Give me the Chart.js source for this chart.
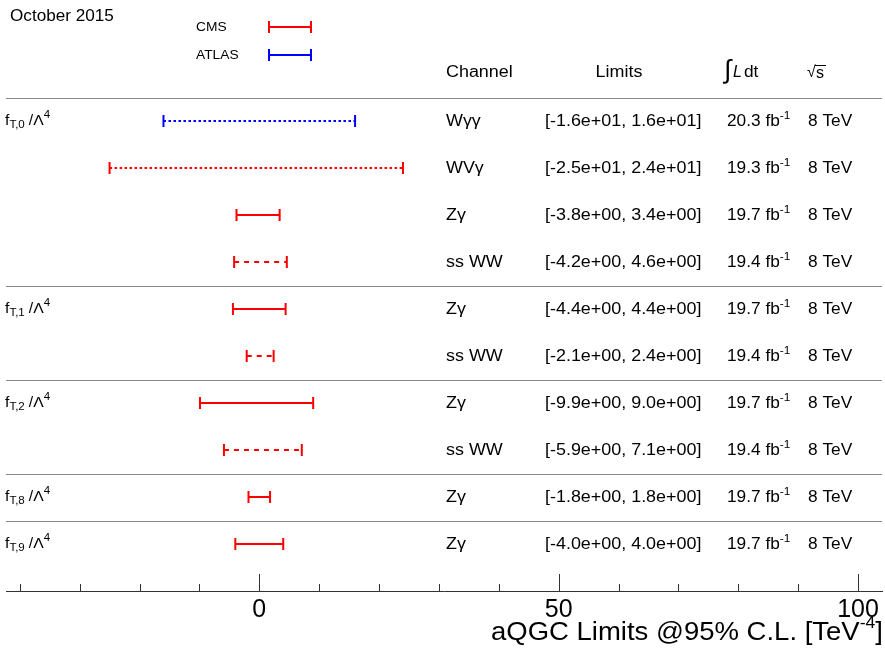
<!DOCTYPE html>
<html><head><meta charset="utf-8">
<script src="https://cdn.jsdelivr.net/npm/chart.js@4/dist/chart.umd.min.js"></script>
<style>html,body{margin:0;padding:0;background:#fff;}#wrap{width:885px;height:650px;}</style>
</head><body><div id="wrap"><canvas id="c" width="885" height="650"></canvas></div>
<script>
// ---- data ----
const coefficients = ['T,0','T,0','T,0','T,0','T,1','T,1','T,2','T,2','T,8','T,9'];
const channels = ['Wγγ','WVγ','Zγ','ss WW','Zγ','ss WW','Zγ','ss WW','Zγ','Zγ'];
const experiments = ['ATLAS','CMS','CMS','CMS','CMS','CMS','CMS','CMS','CMS','CMS'];
const lowerLimits = [-16,-25,-3.8,-4.2,-4.4,-2.1,-9.9,-5.9,-1.8,-4.0];
const upperLimits = [16,24,3.4,4.6,4.4,2.4,9.0,7.1,1.8,4.0];
const limitLabels = ['[-1.6e+01, 1.6e+01]','[-2.5e+01, 2.4e+01]','[-3.8e+00, 3.4e+00]','[-4.2e+00, 4.6e+00]','[-4.4e+00, 4.4e+00]','[-2.1e+00, 2.4e+00]','[-9.9e+00, 9.0e+00]','[-5.9e+00, 7.1e+00]','[-1.8e+00, 1.8e+00]','[-4.0e+00, 4.0e+00]'];
const luminosities = ['20.3','19.3','19.7','19.4','19.7','19.4','19.7','19.4','19.7','19.7'];
const energies = ['8 TeV','8 TeV','8 TeV','8 TeV','8 TeV','8 TeV','8 TeV','8 TeV','8 TeV','8 TeV'];
const lineStyles = ['dotted','dotted','solid','dashed','solid','dashed','solid','dashed','solid','solid'];
const majorTicks = [0,50,100];
const minorTicks = [-40,-30,-20,-10,10,20,30,40,60,70,80,90];
const legendEntries = ['CMS','ATLAS'];

const COLORS = {CMS:'#ff0000', ATLAS:'#0000ff'};
const DASHES = {solid:[], dashed:[5,5], dotted:[2.5,2.5]};
const FONT = '"Liberation Sans", Arial, sans-serif';

const datasets = lowerLimits.map((lo, i) => ({
  data: [{x: lo, y: i}, {x: upperLimits[i], y: i}],
  showLine: true,
  borderColor: COLORS[experiments[i]],
  borderWidth: 2,
  borderDash: DASHES[lineStyles[i]],
  pointStyle: 'line',
  rotation: 90,
  pointRadius: 6,
  pointBorderWidth: 2,
  pointBorderColor: COLORS[experiments[i]],
  pointBackgroundColor: COLORS[experiments[i]]
}));

function txt(ctx, s, x, y, size, opts) {
  opts = opts || {};
  ctx.save();
  ctx.font = (opts.italic ? 'italic ' : '') + size + 'px ' + FONT;
  ctx.fillStyle = '#000';
  ctx.textBaseline = 'middle';
  const sx = opts.sx || 1;
  const w = ctx.measureText(s).width * sx;
  let x0 = x;
  if (opts.align === 'center') x0 = x - w / 2;
  else if (opts.align === 'right') x0 = x - w;
  ctx.translate(x0, y);
  ctx.scale(sx, 1);
  ctx.textAlign = 'left';
  ctx.fillText(s, 0, 0);
  ctx.restore();
  return w;
}
function rich(ctx, parts, x, y, align, sx) {
  let total = 0;
  parts.forEach(p => { ctx.font = (p.italic?'italic ':'') + p.size + 'px ' + FONT; total += ctx.measureText(p.t).width * (sx||1) + (p.gap||0); });
  let cx = align === 'right' ? x - total : (align === 'center' ? x - total/2 : x);
  parts.forEach(p => { cx += txt(ctx, p.t, cx, y + (p.dy||0), p.size, {italic:p.italic, sx:sx}) + (p.gap||0); });
}

const decor = {
  id: 'decor',
  afterDraw(chart) {
    const ctx = chart.ctx, xs = chart.scales.x, ys = chart.scales.y, ca = chart.chartArea;
    ctx.save();
    ctx.strokeStyle = '#8a8a8a'; ctx.lineWidth = 1;
    const bounds = [-0.5];
    for (let i = 1; i < coefficients.length; i++) if (coefficients[i] !== coefficients[i-1]) bounds.push(i - 0.5);
    bounds.forEach(b => {
      const y = Math.round(ys.getPixelForValue(b)) + 0.5;
      ctx.beginPath(); ctx.moveTo(ca.left, y); ctx.lineTo(ca.right, y); ctx.stroke();
    });
    ctx.strokeStyle = '#333';
    const yb = ca.bottom;
    majorTicks.forEach(v => { const x = Math.round(xs.getPixelForValue(v)) + 0.5; ctx.beginPath(); ctx.moveTo(x, yb); ctx.lineTo(x, yb - 17); ctx.stroke(); });
    minorTicks.forEach(v => { const x = Math.round(xs.getPixelForValue(v)) + 0.5; ctx.beginPath(); ctx.moveTo(x, yb); ctx.lineTo(x, yb - 7); ctx.stroke(); });
    ctx.restore();

    // group labels
    coefficients.forEach((c, i) => {
      if (i > 0 && coefficients[i-1] === c) return;
      const y = ys.getPixelForValue(i);
      rich(ctx, [
        {t:'f', size:15},
        {t:c, size:11, dy:4, gap:4},
        {t:'/Λ', size:15},
        {t:'4', size:11, dy:-6}
      ], 5, y, 'left', 1.05);
    });

    // table rows
    channels.forEach((ch, i) => {
      const y = ys.getPixelForValue(i) + 1;
      txt(ctx, ch, 446, y, 16, {sx:1.12});
      txt(ctx, limitLabels[i], 545, y, 16, {sx:1.12});
      rich(ctx, [{t:luminosities[i] + ' fb', size:16}, {t:'-1', size:11, dy:-6}], 727, y, 'left', 1.08);
      txt(ctx, energies[i], 808, y, 16, {sx:1.08});
    });

    // header
    const hy = 73;
    txt(ctx, 'Channel', 446, hy, 16, {sx:1.12});
    txt(ctx, 'Limits', 619, hy, 16, {sx:1.12, align:'center'});
    txt(ctx, '∫', 724, hy - 2, 26, {});
    txt(ctx, 'L', 733, hy, 16, {italic:true});
    txt(ctx, 'dt', 744, hy, 16, {sx:1.08});
    txt(ctx, '√', 807, hy, 16, {});
    txt(ctx, 's', 816, hy + 1, 16, {});
    ctx.save(); ctx.strokeStyle = '#000'; ctx.lineWidth = 1;
    ctx.beginPath(); ctx.moveTo(815, hy - 7.5); ctx.lineTo(826, hy - 7.5); ctx.stroke(); ctx.restore();

    // top-left date
    txt(ctx, 'October 2015', 10, 17, 16, {sx:1.07});

    // legend
    legendEntries.forEach((name, k) => {
      const y = 27 + k * 28;
      txt(ctx, name, 196, y, 13, {sx:1.06});
      ctx.save(); ctx.strokeStyle = COLORS[name]; ctx.lineWidth = 2;
      ctx.beginPath(); ctx.moveTo(268, y); ctx.lineTo(312, y);
      ctx.moveTo(269, y - 6); ctx.lineTo(269, y + 6);
      ctx.moveTo(311, y - 6); ctx.lineTo(311, y + 6);
      ctx.stroke(); ctx.restore();
    });

    // axis title
    rich(ctx, [
      {t:'aQGC Limits @95% C.L. [TeV', size:25},
      {t:'-4', size:16, dy:-9},
      {t:']', size:25}
    ], 883, 633, 'right', 1.1);
  }
};

new Chart(document.getElementById('c'), {
  type: 'scatter',
  data: { datasets },
  options: {
    responsive: false,
    animation: false,
    layout: { autoPadding: false, padding: { top: 97.5, left: 6, right: 3, bottom: 0 } },
    plugins: { legend: { display: false }, tooltip: { enabled: false } },
    scales: {
      x: {
        type: 'linear', position: 'bottom', min: -42.3, max: 104,
        grid: { display: false, drawTicks: false },
        border: { display: true, color: '#333', width: 1 },
        ticks: {
          stepSize: 10, includeBounds: false, autoSkip: false, maxRotation: 0, padding: 4,
          color: '#000', font: { size: 25, family: FONT },
          callback: v => majorTicks.includes(v) ? String(v) : ''
        },
        afterFit: s => { s.height = 59; s.paddingLeft = 0; s.paddingRight = 0; }
      },
      y: { type: 'linear', reverse: true, min: -0.5, max: 10, display: false }
    }
  },
  plugins: [decor]
});
</script></body></html>
